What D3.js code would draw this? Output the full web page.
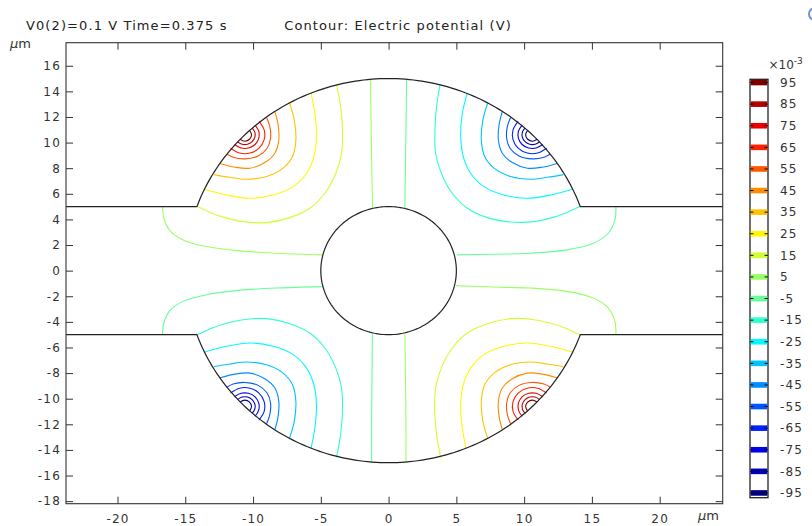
<!DOCTYPE html>
<html>
<head>
<meta charset="utf-8">
<script src="https://cdn.jsdelivr.net/npm/d3@7"></script>
<style>
  body { margin: 0; background: #fff; }
  svg { display: block; font-family: "DejaVu Sans", sans-serif; }
</style>
</head>
<body>
<svg id="chart" width="812" height="526"></svg>
<script>
// ---------------- data ----------------
const titleLeft = "V0(2)=0.1 V Time=0.375 s";
const titleRight = "Contour: Electric potential (V)";
const unitLabel = "m";
const xDomain = [-23.8, 24.65];
const yDomain = [-18.2, 17.8];
const xTicks = [-20, -15, -10, -5, 0, 5, 10, 15, 20];
const yTicks = [16, 14, 12, 10, 8, 6, 4, 2, 0, -2, -4, -6, -8, -10, -12, -14, -16, -18];
// contour levels (x10^-3 V) and their colours
const levels = [95, 85, 75, 65, 55, 45, 35, 25, 15, 5, -5, -15, -25, -35, -45, -55, -65, -75, -85, -95];
const levelColors = ["#800000", "#b50000", "#eb0000", "#ff2200", "#ff5700", "#ff8d00", "#ffc300", "#fff800",
  "#d0ff2f", "#9aff65", "#65ff9a", "#2fffd0", "#00f8ff", "#00c3ff", "#008dff", "#0057ff", "#0022ff",
  "#0000eb", "#0000b5", "#000080"];
const colorbarRange = [96.5, -97.2];
// geometry (µm)
const chamberRadius = 15;
const channelHalfHeight = 5;
const postRadius = 5;

// contour lines, in µm, per quadrant
const contoursTL = [
  {level: 95, pts: [[-10.26,10.96],[-10.11,10.61],[-10.26,10.26],[-10.61,10.11],[-10.96,10.26]]},
  {level: 85, pts: [[-10.07,11.15],[-9.87,10.81],[-9.87,10.41],[-10.07,10.07],[-10.41,9.87],[-10.81,9.87],[-11.15,10.07]]},
  {level: 75, pts: [[-9.85,11.37],[-9.58,10.89],[-9.58,10.33],[-9.85,9.85],[-10.33,9.58],[-10.89,9.58],[-11.37,9.85]]},
  {level: 65, pts: [[-9.56,11.66],[-9.18,10.99],[-9.18,10.23],[-9.56,9.56],[-10.23,9.18],[-10.99,9.18],[-11.66,9.56]]},
  {level: 55, pts: [[-9.00,11.96],[-8.76,11.25],[-8.71,10.34],[-8.96,9.56],[-9.62,8.96],[-10.61,8.73],[-11.47,8.86],[-11.91,9.09]]},
  {level: 45, pts: [[-8.39,12.42],[-8.15,11.38],[-8.10,10.21],[-8.39,9.17],[-9.13,8.44],[-10.24,8.00],[-11.34,8.08],[-12.45,8.37]]},
  {level: 35, pts: [[-7.33,13.15],[-6.96,11.77],[-6.84,10.21],[-7.09,8.91],[-7.78,8.00],[-9.00,7.35],[-10.48,7.14],[-11.71,7.29],[-12.89,7.50]]},
  {level: 25, pts: [[-5.73,13.91],[-5.44,12.29],[-5.32,10.47],[-5.51,8.91],[-6.05,7.61],[-7.04,6.56],[-8.51,5.91],[-10.24,5.65],[-11.96,5.91],[-13.56,6.36]]},
  {level: 15, pts: [[-3.84,14.59],[-3.54,12.81],[-3.40,10.99],[-3.47,9.17],[-3.89,7.61],[-4.70,6.04],[-5.81,4.87],[-7.28,4.14],[-9.00,3.75],[-10.73,3.83],[-12.33,4.22],[-13.31,4.61],[-14.10,5.00]]},
  {level: 5, pts: [[-1.33,14.94],[-1.29,11.50],[-1.24,8.00],[-1.18,4.86]]},
  {level: 5, pts: [[-16.68,5.00],[-16.58,4.09],[-16.14,3.13],[-15.16,2.40],[-13.43,1.88],[-11.22,1.56],[-8.27,1.36],[-4.87,1.23]]}
];
const contoursTR = [
  {level: -95, pts: [[10.26,10.96],[10.11,10.61],[10.26,10.26],[10.61,10.11],[10.96,10.26]]},
  {level: -85, pts: [[10.07,11.15],[9.87,10.81],[9.87,10.41],[10.07,10.07],[10.41,9.87],[10.81,9.87],[11.15,10.07]]},
  {level: -75, pts: [[9.85,11.37],[9.58,10.89],[9.58,10.33],[9.85,9.85],[10.33,9.58],[10.89,9.58],[11.37,9.85]]},
  {level: -65, pts: [[9.56,11.66],[9.18,10.99],[9.18,10.23],[9.56,9.56],[10.23,9.18],[10.99,9.18],[11.66,9.56]]},
  {level: -55, pts: [[9.00,11.96],[8.76,11.25],[8.71,10.34],[8.96,9.56],[9.62,8.96],[10.61,8.73],[11.47,8.86],[11.91,9.09]]},
  {level: -45, pts: [[8.39,12.42],[8.15,11.38],[8.10,10.21],[8.39,9.17],[9.13,8.44],[10.24,8.00],[11.34,8.08],[12.45,8.37]]},
  {level: -35, pts: [[7.33,13.15],[6.96,11.77],[6.84,10.21],[7.09,8.91],[7.78,8.00],[9.00,7.35],[10.48,7.14],[11.71,7.29],[12.89,7.50]]},
  {level: -25, pts: [[5.80,13.85],[5.44,12.29],[5.32,10.47],[5.51,8.91],[6.05,7.61],[7.04,6.56],[8.51,5.91],[10.24,5.65],[11.96,5.91],[13.56,6.36]]},
  {level: -15, pts: [[3.80,14.55],[3.54,12.81],[3.42,10.99],[3.47,9.17],[3.89,7.61],[4.70,6.04],[5.81,4.87],[7.28,4.14],[8.71,3.83],[10.73,3.83],[12.33,4.22],[13.31,4.61],[14.12,5.00]]},
  {level: -5, pts: [[1.33,14.94],[1.29,11.50],[1.24,8.00],[1.20,4.86]]},
  {level: -5, pts: [[16.77,5.00],[16.70,3.96],[16.21,2.92],[15.10,2.14],[13.13,1.62],[10.43,1.36],[7.72,1.28],[5.02,1.23]]}
];
const contoursBL = [
  {level: -95, pts: [[-10.26,-10.96],[-10.11,-10.61],[-10.26,-10.26],[-10.61,-10.11],[-10.96,-10.26]]},
  {level: -85, pts: [[-10.07,-11.15],[-9.87,-10.81],[-9.87,-10.41],[-10.07,-10.07],[-10.41,-9.87],[-10.81,-9.87],[-11.15,-10.07]]},
  {level: -75, pts: [[-9.85,-11.37],[-9.58,-10.89],[-9.58,-10.33],[-9.85,-9.85],[-10.33,-9.58],[-10.89,-9.58],[-11.37,-9.85]]},
  {level: -65, pts: [[-9.56,-11.66],[-9.18,-10.99],[-9.18,-10.23],[-9.56,-9.56],[-10.23,-9.18],[-10.99,-9.18],[-11.66,-9.56]]},
  {level: -55, pts: [[-9.00,-11.96],[-8.76,-11.25],[-8.71,-10.34],[-8.96,-9.56],[-9.62,-8.96],[-10.61,-8.73],[-11.47,-8.86],[-11.91,-9.09]]},
  {level: -45, pts: [[-8.39,-12.42],[-8.15,-11.38],[-8.10,-10.21],[-8.39,-9.17],[-9.13,-8.44],[-10.24,-8.00],[-11.34,-8.08],[-12.45,-8.37]]},
  {level: -35, pts: [[-7.33,-13.15],[-6.96,-11.77],[-6.84,-10.21],[-7.09,-8.91],[-7.78,-8.00],[-9.00,-7.35],[-10.48,-7.14],[-11.71,-7.29],[-12.89,-7.50]]},
  {level: -25, pts: [[-5.73,-13.91],[-5.44,-12.29],[-5.32,-10.47],[-5.51,-8.91],[-6.05,-7.61],[-7.04,-6.56],[-8.51,-5.91],[-10.24,-5.65],[-11.96,-5.91],[-13.56,-6.36]]},
  {level: -15, pts: [[-3.84,-14.59],[-3.54,-12.81],[-3.40,-10.99],[-3.47,-9.17],[-3.89,-7.61],[-4.70,-6.04],[-5.81,-4.87],[-7.28,-4.14],[-9.00,-3.75],[-10.73,-3.83],[-12.33,-4.22],[-13.31,-4.61],[-14.10,-5.00]]},
  {level: -5, pts: [[-1.25,-14.94],[-1.25,-11.50],[-1.22,-8.00],[-1.20,-4.86]]},
  {level: -5, pts: [[-16.68,-5.00],[-16.58,-4.09],[-16.14,-3.13],[-15.16,-2.40],[-13.43,-1.88],[-11.22,-1.56],[-8.27,-1.36],[-4.83,-1.25]]}
];
const contoursBR = [
  {level: 95, pts: [[10.26,-10.96],[10.11,-10.61],[10.26,-10.26],[10.61,-10.11],[10.96,-10.26]]},
  {level: 85, pts: [[10.07,-11.15],[9.87,-10.81],[9.87,-10.41],[10.07,-10.07],[10.41,-9.87],[10.81,-9.87],[11.15,-10.07]]},
  {level: 75, pts: [[9.85,-11.37],[9.58,-10.89],[9.58,-10.33],[9.85,-9.85],[10.33,-9.58],[10.89,-9.58],[11.37,-9.85]]},
  {level: 65, pts: [[9.56,-11.66],[9.18,-10.99],[9.18,-10.23],[9.56,-9.56],[10.23,-9.18],[10.99,-9.18],[11.66,-9.56]]},
  {level: 55, pts: [[9.00,-11.96],[8.76,-11.25],[8.71,-10.34],[8.96,-9.56],[9.62,-8.96],[10.61,-8.73],[11.47,-8.86],[11.91,-9.09]]},
  {level: 45, pts: [[8.39,-12.42],[8.15,-11.38],[8.10,-10.21],[8.39,-9.17],[9.13,-8.44],[10.24,-8.00],[11.34,-8.08],[12.45,-8.37]]},
  {level: 35, pts: [[7.33,-13.15],[6.96,-11.77],[6.84,-10.21],[7.09,-8.91],[7.78,-8.00],[9.00,-7.35],[10.48,-7.14],[11.71,-7.29],[12.89,-7.50]]},
  {level: 25, pts: [[5.73,-13.91],[5.44,-12.29],[5.32,-10.47],[5.51,-8.91],[6.05,-7.61],[7.04,-6.56],[8.51,-5.91],[10.24,-5.65],[11.96,-5.91],[13.56,-6.36]]},
  {level: 15, pts: [[3.84,-14.59],[3.54,-12.81],[3.40,-10.99],[3.47,-9.17],[3.89,-7.61],[4.70,-6.04],[5.81,-4.87],[7.28,-4.14],[9.00,-3.75],[10.73,-3.83],[12.33,-4.22],[13.31,-4.61],[14.10,-5.00]]},
  {level: 5, pts: [[1.28,-14.94],[1.28,-11.50],[1.24,-8.00],[1.20,-4.86]]},
  {level: 5, pts: [[16.77,-5.00],[16.70,-3.96],[16.21,-2.92],[15.10,-2.14],[13.13,-1.62],[10.43,-1.36],[7.72,-1.28],[4.97,-1.17]]}
];

// ---------------- drawing ----------------
const svg = d3.select("#chart");
const M = {left: 66, right: 722.7, top: 42.7, bottom: 503.7};
const x = d3.scaleLinear().domain(xDomain).range([M.left, M.right]);
const y = d3.scaleLinear().domain(yDomain).range([M.bottom, M.top]);
const colorOf = d3.scaleOrdinal().domain(levels).range(levelColors);
const TXT = "#333";

// titles
svg.append("text").attr("x", 26).attr("y", 29.5).attr("font-size", 13).attr("letter-spacing", "1.1px")
  .attr("fill", "#222").text(titleLeft);
svg.append("text").attr("x", 284.3).attr("y", 29.5).attr("font-size", 13).attr("letter-spacing", "1.1px")
  .attr("fill", "#222").text(titleRight);

// contours
const smooth = d3.line().x(d => x(d[0])).y(d => y(d[1])).curve(d3.curveCatmullRom.alpha(0.5));
const allContours = [...contoursTL, ...contoursTR, ...contoursBL, ...contoursBR];
svg.append("g").selectAll("path").data(allContours).join("path")
  .attr("d", d => smooth(d.pts))
  .attr("fill", "none")
  .attr("stroke", d => colorOf(d.level))
  .attr("stroke-width", 1.1);

// geometry boundary
const straight = d3.line().x(d => x(d[0])).y(d => y(d[1]));
const th0 = Math.asin(channelHalfHeight / chamberRadius);
const arcPts = sgn => d3.range(0, 121).map(i => {
  const a = Math.PI - th0 - (Math.PI - 2 * th0) * i / 120;
  return [chamberRadius * Math.cos(a), sgn * chamberRadius * Math.sin(a)];
});
const topWall = [[xDomain[0], channelHalfHeight], ...arcPts(1), [xDomain[1], channelHalfHeight]];
const botWall = [[xDomain[0], -channelHalfHeight], ...arcPts(-1), [xDomain[1], -channelHalfHeight]];
const post = d3.range(0, 181).map(i => {
  const a = 2 * Math.PI * i / 180;
  return [postRadius * Math.cos(a), postRadius * Math.sin(a)];
});
const geo = svg.append("g").attr("fill", "none").attr("stroke", "#222").attr("stroke-width", 1.2);
[topWall, botWall, post].forEach(p => geo.append("path").attr("d", straight(p)));

// axes
const fmt = d => String(d);
function styleAxis(g) {
  g.select(".domain").remove();
  g.selectAll(".tick line").attr("stroke", "#333");
  g.selectAll(".tick text").attr("fill", TXT).attr("font-size", 12)
    .attr("font-family", "DejaVu Sans, sans-serif").attr("letter-spacing", "1.2px");
}
svg.append("g").attr("transform", `translate(0,${M.bottom})`)
  .call(d3.axisBottom(x).tickValues(xTicks).tickSize(-7).tickPadding(10.5).tickFormat(fmt)).call(styleAxis);
svg.append("g").attr("transform", `translate(0,${M.top})`)
  .call(d3.axisTop(x).tickValues(xTicks).tickSize(-7).tickFormat("")).call(styleAxis);
svg.append("g").attr("transform", `translate(${M.left},0)`)
  .call(d3.axisLeft(y).tickValues(yTicks).tickSize(-7).tickPadding(5).tickFormat(fmt)).call(styleAxis);
svg.append("g").attr("transform", `translate(${M.right},0)`)
  .call(d3.axisRight(y).tickValues(yTicks).tickSize(-7).tickFormat("")).call(styleAxis);

svg.append("rect").attr("x", M.left).attr("y", M.top)
  .attr("width", M.right - M.left).attr("height", M.bottom - M.top)
  .attr("fill", "none").attr("stroke", "#333").attr("stroke-width", 1.1);

// unit labels
function unit(xp, yp) {
  const t = svg.append("text").attr("x", xp).attr("y", yp).attr("font-size", 13).attr("fill", TXT);
  t.append("tspan").attr("font-style", "italic").text("\u03bc");
  t.append("tspan").text(unitLabel);
}
unit(10, 48);
unit(698, 520);

// colour legend
const ly = d3.scaleLinear().domain(colorbarRange).range([79.3, 497.7]);
const L = {x: 750, w: 18};
svg.append("rect").attr("x", L.x).attr("y", ly(colorbarRange[0]))
  .attr("width", L.w).attr("height", ly(colorbarRange[1]) - ly(colorbarRange[0]))
  .attr("fill", "#fff").attr("stroke", "#222").attr("stroke-width", 1.3);
const lg = svg.append("g");
lg.selectAll("rect.band").data(levels).join("rect").attr("class", "band")
  .attr("x", L.x + 0.7).attr("width", L.w - 1.4)
  .attr("y", d => ly(d) - 2.8).attr("height", 5.6)
  .attr("fill", d => colorOf(d));
lg.selectAll("path.dash").data(levels).join("path").attr("class", "dash")
  .attr("d", d => `M${L.x},${ly(d)}h3.5M${L.x + L.w - 3.5},${ly(d)}h3.5`)
  .attr("stroke", "#111").attr("stroke-width", 1);
lg.selectAll("text").data(levels).join("text")
  .attr("x", 780).attr("y", d => ly(d)).attr("dy", "0.36em")
  .attr("font-size", 12).attr("letter-spacing", "1.2px").attr("fill", TXT)
  .text(d => String(d));
const ex = svg.append("text").attr("x", 768.5).attr("y", 68.5).attr("font-size", 12).attr("fill", TXT);
ex.append("tspan").text("\u00d710");
ex.append("tspan").attr("dy", -5).attr("font-size", 9).text("-3");

// cropped toolbar icon at top-right corner
svg.append("circle").attr("cx", 815).attr("cy", 14).attr("r", 6)
  .attr("fill", "none").attr("stroke", "#6f8fd0").attr("stroke-width", 2);
</script>
</body>
</html>
